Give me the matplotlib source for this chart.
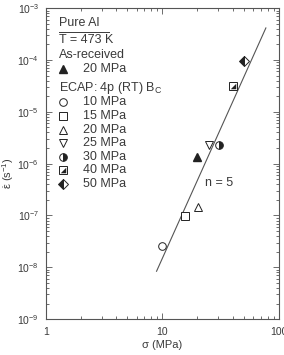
import numpy as np
import matplotlib
matplotlib.use('Agg')
import matplotlib.pyplot as plt
from matplotlib.path import Path
from matplotlib.ticker import LogLocator, FuncFormatter, NullFormatter

plt.rcParams['font.family'] = ['Liberation Sans', 'DejaVu Sans']
plt.rcParams['mathtext.fontset'] = 'custom'
plt.rcParams['mathtext.rm'] = 'Liberation Sans'
plt.rcParams['mathtext.it'] = 'Liberation Sans'

# data
as_rec_stress = [20]
as_rec_rate = [1.32e-6]

ecap_labels = ['10 MPa', '15 MPa', '20 MPa', '25 MPa', '30 MPa', '40 MPa', '50 MPa']
ecap_stress = [10, 15.5, 20.3, 25.2, 30.4, 40.3, 50]
ecap_rate = [2.6e-8, 9.8e-8, 1.45e-7, 2.3e-6, 2.3e-6, 3.2e-5, 9.4e-5]

fit_stress = [8.9, 77.3]
fit_n = 5
fit_rate0 = 8.4e-9

txt = '#3a3a3a'
col = '#222222'

fig = plt.figure(figsize=(2.84, 3.55), dpi=100)
ax = fig.add_axes([0.162, 0.101, 0.820, 0.876])

# fitted line, slope n = 5
xs = np.array(fit_stress)
ys = fit_rate0 * (xs / xs[0]) ** fit_n
ax.plot(xs, ys, color='#555555', lw=0.8)

ms = 5.5
tri_lr = Path([(-1, -1), (1, -1), (1, 1), (-1, -1)])

def draw_mark(i, x, y, trans=None):
    kw = dict(color=col, ms=ms, mew=0.7, ls='none', clip_on=False)
    if trans is not None:
        kw['transform'] = trans
    if i == 0:
        ax.plot(x, y, 'o', mfc='white', **kw)
    elif i == 1:
        ax.plot(x, y, 's', mfc='white', **kw)
    elif i == 2:
        ax.plot(x, y, '^', mfc='white', **kw)
    elif i == 3:
        ax.plot(x, y, 'v', mfc='white', **kw)
    elif i == 4:
        ax.plot(x, y, 'o', fillstyle='right', mfc=col, mfcalt='white', **kw)
    elif i == 5:
        ax.plot(x, y, 's', mfc='white', **kw)
        extra = {'transform': trans} if trans is not None else {}
        ax.plot(x, y, marker=tri_lr, mfc=col, mew=0, ls='none', ms=ms * 0.72,
                clip_on=False, **extra)
    elif i == 6:
        ax.plot(x, y, 'D', fillstyle='left', mfc=col, mfcalt='white', **kw)

ax.plot(as_rec_stress, as_rec_rate, '^', color=col, ms=ms)
for i in range(len(ecap_stress)):
    draw_mark(i, [ecap_stress[i]], [ecap_rate[i]])

ax.text(23, 4.3e-7, 'n = 5', fontsize=9, color=txt, ha='left', va='center')

ax.set_xscale('log')
ax.set_yscale('log')
ax.set_xlim(1, 100)
ax.set_ylim(1e-9, 1e-3)

ax.xaxis.set_major_locator(LogLocator(base=10))
ax.xaxis.set_minor_locator(LogLocator(base=10, subs=np.arange(2, 10)))
ax.xaxis.set_major_formatter(FuncFormatter(lambda v, p: '%g' % v))
ax.xaxis.set_minor_formatter(NullFormatter())
ax.yaxis.set_major_locator(LogLocator(base=10, numticks=10))
ax.yaxis.set_minor_locator(LogLocator(base=10, subs=np.arange(2, 10), numticks=10))
ax.yaxis.set_minor_formatter(NullFormatter())

ax.tick_params(which='both', direction='in', top=True, right=True, colors='#555555',
               labelcolor=txt, labelsize=7.5, width=0.6)
ax.tick_params(which='major', length=4)
ax.tick_params(which='minor', length=2)
ax.tick_params(axis='x', pad=6)
ax.tick_params(axis='y', pad=5)
for s in ax.spines.values():
    s.set_color('#555555')
    s.set_linewidth(0.8)

ax.set_xlabel('σ (MPa)', fontsize=8, color=txt, labelpad=2)
ax.set_ylabel(r'$\dot{\mathrm{\varepsilon}}$ (s$^{-1}$)', fontsize=8, color=txt)
ax.yaxis.set_label_coords(-0.13, 0.47)

# legend block drawn by hand
T = ax.transAxes
fs = 9
ax.text(0.055, 0.952, 'Pure Al', transform=T, fontsize=fs, color=txt, va='center')
ax.plot([0.055, 0.27], [0.924, 0.924], transform=T, color=txt, lw=0.7)
ax.text(0.055, 0.897, 'T = 473 K', transform=T, fontsize=fs, color=txt, va='center')
ax.text(0.055, 0.849, 'As-received', transform=T, fontsize=fs, color=txt, va='center')
ax.plot([0.075], [0.804], '^', transform=T, color=col, ms=ms)
ax.text(0.16, 0.804, '20 MPa', transform=T, fontsize=fs, color=txt, va='center')
ax.text(0.055, 0.743, r'ECAP: 4p (RT) B$_\mathregular{C}$', transform=T, fontsize=fs,
        color=txt, va='center')
for i, lab in enumerate(ecap_labels):
    yy = 0.697 - i * 0.0437
    draw_mark(i, [0.075], [yy], trans=T)
    ax.text(0.16, yy, lab, transform=T, fontsize=fs, color=txt, va='center')

fig.savefig('out.png', dpi=100)
